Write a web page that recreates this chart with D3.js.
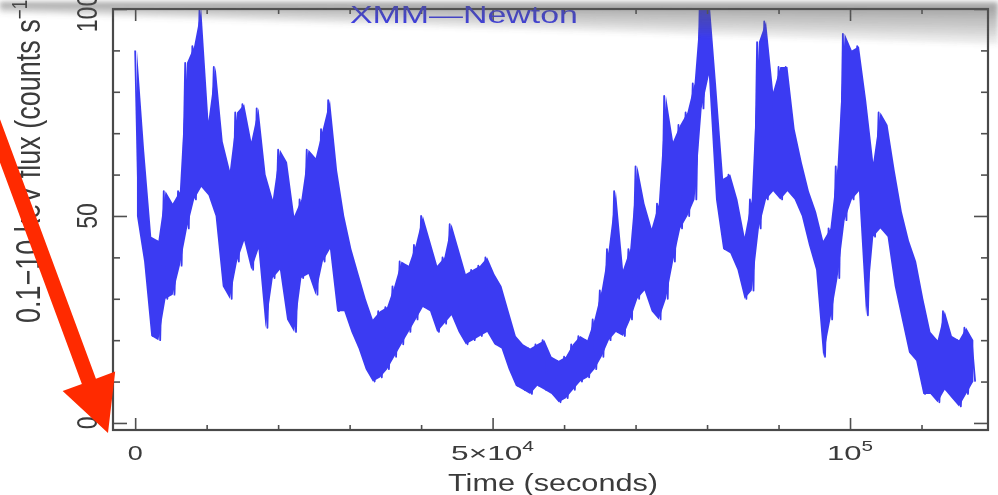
<!DOCTYPE html>
<html>
<head>
<meta charset="utf-8">
<script src="https://cdn.jsdelivr.net/npm/d3@7"></script>
<style>
  html, body { margin: 0; padding: 0; background: #fff; }
  svg { display: block; }
</style>
</head>
<body>
<div id="chart"></div>
<script>
// XMM-Newton light curve, 1000 s bins: upper and lower excursion in each bin
const binWidth = 1000;
const fluxHigh = [90,66,45,44,56,53,56,87,91,100, 73,86,68,61,75,77,68,76,60,54,
  66,63,50,54,66,64,71,78,61,50, 42,36,30,25,27,28,33,39,38,43,
  50,44,38,40,48,42,36,37,38,40, 36,33,27,21,19,18,19,20,16,15,
  16,19,21,20,25,32,42,56,37,42, 62,53,47,53,79,68,72,75,82,104,
  104,82,59,60,54,45,54,92,97,80, 86,86,71,63,56,51,44,47,62,94,
  90,91,78,63,75,72,61,51,44,39, 30,22,20,27,21,20,23,20];
const fluxLow = [50,39,21,20,30,31,38,47,54,57, 55,50,33,30,39,44,37,42,23,35,
  37,25,22,35,36,31,39,42,27,27, 22,18,13,10,11,13,16,19,22,25,
  28,27,22,24,26,22,19,20,21,22, 19,18,13,9,8,7,9,8,7,5,
  6,8,10,11,13,16,20,22,21,25, 30,32,27,25,30,39,47,50,54,76,
  84,54,42,41,37,30,32,47,54,56, 54,56,54,50,43,37,16,25,35,49,
  54,56,26,45,47,45,33,25,17,15, 7,7,5,8,6,4,7,10];

const xMajorTicks = [0, 50000, 100000];
const xMinorTicks = [10000, 20000, 30000, 40000, 60000, 70000, 80000, 90000, 110000];
const xTickLabels = [["0", ""], ["5×10", "4"], ["10", "5"]];
const yMajorTicks = [0, 50, 100];
const yMinorTicks = [10, 20, 30, 40, 60, 70, 80, 90];
const yTickLabels = ["0", "50", "100"];

const width = 998, height = 495;
const font = "'Liberation Sans', Arial, sans-serif";
const ink = "#3a3a3a";
const blue = "#3b3bf2";
const stretch = 1.3;   // the screenshot is squeezed wide

const svg = d3.select("#chart").append("svg").attr("width", width).attr("height", height);
const defs = svg.append("defs");
defs.append("filter").attr("id", "soft").attr("x", "-5%").attr("y", "-5%").attr("width", "110%").attr("height", "110%")
  .append("feGaussianBlur").attr("stdDeviation", 0.6);
defs.append("filter").attr("id", "shade").attr("x", "-5%").attr("y", "-50%").attr("width", "110%").attr("height", "200%")
  .append("feGaussianBlur").attr("stdDeviation", 2.5);

const x = d3.scaleLinear().domain([-3100, 119300]).range([113, 988]);
const y = d3.scaleLinear().domain([-1.7, 100]).range([430, 9]);

defs.append("clipPath").attr("id", "plot").append("rect")
  .attr("x", x.range()[0]).attr("y", y.range()[1])
  .attr("width", x.range()[1] - x.range()[0]).attr("height", y.range()[0] - y.range()[1]);

const g = svg.append("g").attr("filter", "url(#soft)");

const bins = fluxHigh.map((h, i) => ({ t: i * binWidth, hi: h, lo: fluxLow[i] }));
const points = bins.flatMap(d => [{ t: d.t, v: d.hi }, { t: d.t + binWidth / 2, v: d.lo }]);

const plot = g.append("g").attr("clip-path", "url(#plot)");
plot.append("path").datum(bins).attr("fill", blue).attr("stroke", "none")
  .attr("d", d3.area().x(d => x(d.t + binWidth / 4)).y0(d => y(d.lo)).y1(d => y(d.hi)));
plot.append("path").datum(points)
  .attr("fill", "none").attr("stroke", blue).attr("stroke-width", 1.8)
  .attr("stroke-linejoin", "round").attr("d", d3.line().x(d => x(d.t)).y(d => y(d.v)));

// frame and inward ticks
function ticks(axis, transform) {
  const a = g.append("g").attr("transform", transform).call(axis);
  a.select(".domain").remove();
  a.selectAll("line").attr("stroke", "#505050").attr("stroke-width", 1.6);
  a.selectAll("text").remove();
}
const [xl, xr] = x.range(), [yb, yt] = y.range();
ticks(d3.axisBottom(x).tickValues(xMinorTicks).tickSize(-5), `translate(0,${yb})`);
ticks(d3.axisBottom(x).tickValues(xMajorTicks).tickSize(-12), `translate(0,${yb})`);
ticks(d3.axisTop(x).tickValues(xMinorTicks).tickSize(-5), `translate(0,${yt})`);
ticks(d3.axisTop(x).tickValues(xMajorTicks).tickSize(-12), `translate(0,${yt})`);
ticks(d3.axisLeft(y).tickValues(yMinorTicks).tickSize(-7), `translate(${xl},0)`);
ticks(d3.axisLeft(y).tickValues(yMajorTicks).tickSize(-14), `translate(${xl},0)`);
ticks(d3.axisRight(y).tickValues(yMinorTicks).tickSize(-7), `translate(${xr},0)`);
ticks(d3.axisRight(y).tickValues(yMajorTicks).tickSize(-14), `translate(${xr},0)`);
g.append("rect").attr("x", xl).attr("y", yt).attr("width", xr - xl).attr("height", yb - yt)
  .attr("fill", "none").attr("stroke", "#4a4a4a").attr("stroke-width", 2.2);

// x tick labels
const xLabelWidths = [15, 83, 46];
xMajorTicks.forEach((v, i) => {
  const t = g.append("text").attr("x", x(v)).attr("y", 460)
    .attr("text-anchor", "middle").attr("font-family", font).attr("font-size", 21).attr("fill", ink)
    .attr("textLength", xLabelWidths[i]).attr("lengthAdjust", "spacingAndGlyphs");
  t.append("tspan").text(xTickLabels[i][0]);
  if (xTickLabels[i][1]) t.append("tspan").attr("dy", -9).attr("font-size", 14).text(xTickLabels[i][1]);
});

// y tick labels, rotated
yMajorTicks.forEach((v, i) => {
  g.append("text").attr("transform", `translate(97,${y(v) + (v === 100 ? 4 : 0)}) rotate(-90) scale(1,${stretch})`)
    .attr("text-anchor", "middle").attr("font-family", font).attr("font-size", 23).attr("fill", ink)
    .text(yTickLabels[i]);
});

// axis titles
g.append("text").attr("x", 448).attr("y", 491)
  .attr("font-family", font).attr("font-size", 23.5).attr("fill", ink)
  .attr("textLength", 210).attr("lengthAdjust", "spacingAndGlyphs")
  .text("Time (seconds)");

const yTitle = g.append("text").attr("transform", `translate(40,323) rotate(-90) scale(1,${stretch})`)
  .attr("font-family", font).attr("font-size", 27).attr("fill", ink);
yTitle.append("tspan").text("0.1−10 keV flux (counts s");
yTitle.append("tspan").attr("dy", -10).attr("font-size", 17).text("−1");
yTitle.append("tspan").attr("dy", 10).text(")");

g.append("text").attr("x", 350).attr("y", 23)
  .attr("font-family", font).attr("font-size", 23).attr("fill", blue)
  .attr("textLength", 228).attr("lengthAdjust", "spacingAndGlyphs")
  .text("XMM—Newton");

// page-curl shadow across the top
const shade = svg.append("g").attr("filter", "url(#shade)");
[1, 0.8, 0.6, 0.4, 0.25].forEach(f => {
  shade.append("polygon")
    .attr("points", `0,2 ${width},2 ${width},${2 + 42 * f} 0,${2 + 11 * f}`)
    .attr("fill", "#5a5a5a").attr("fill-opacity", 0.14);
});

// red annotation arrow pointing at the origin
const tip = [x(-3800), y(-2.4)];
const dir = [0.347, 0.938], perp = [0.938, -0.347];
const headLen = 55, headHalf = 28, shaftHalf = 7.5, shaftLen = 345;
const base = [tip[0] - headLen * dir[0], tip[1] - headLen * dir[1]];
const tail = [base[0] - shaftLen * dir[0], base[1] - shaftLen * dir[1]];
const pt = (p, k) => [p[0] + k * perp[0], p[1] + k * perp[1]];
const arrow = [pt(tail, -shaftHalf), pt(base, -shaftHalf), pt(base, -headHalf), tip,
  pt(base, headHalf), pt(base, shaftHalf), pt(tail, shaftHalf)];
svg.append("polygon").attr("points", arrow.map(p => p.join(",")).join(" "))
  .attr("fill", "#ff2a00").attr("filter", "url(#soft)");
</script>
</body>
</html>
